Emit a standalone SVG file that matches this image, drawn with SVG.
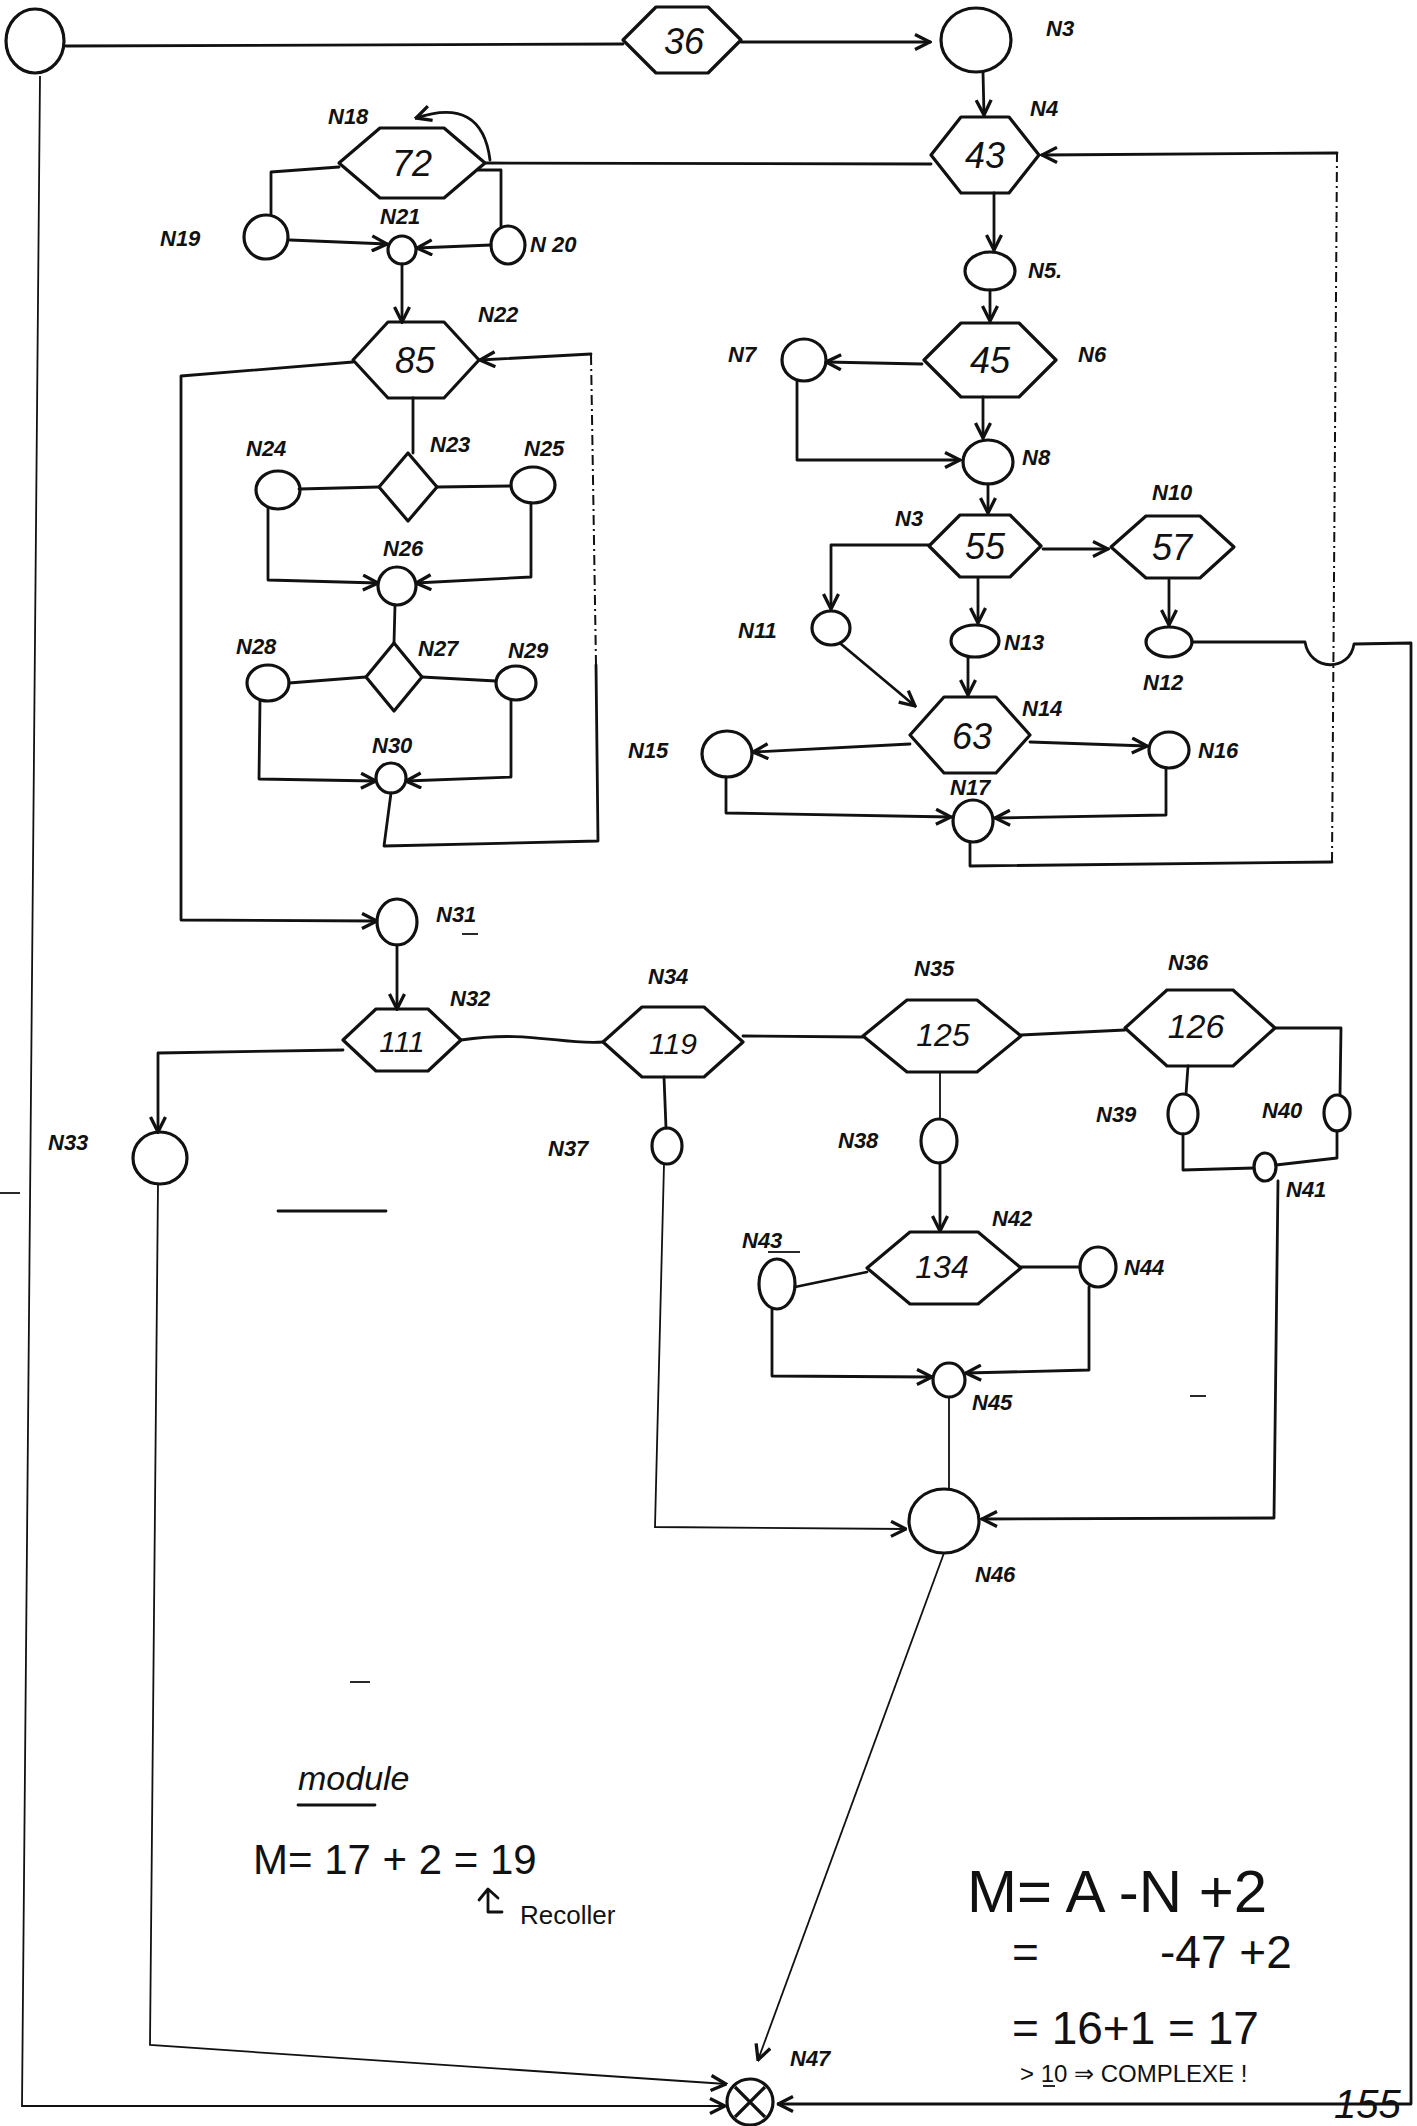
<svg xmlns="http://www.w3.org/2000/svg" width="1417" height="2126" viewBox="0 0 1417 2126">
<style>
.bg{fill:#fff}
.n{fill:none;stroke:#111;stroke-width:3.2;stroke-linejoin:round}
.c{fill:none;stroke:#111;stroke-width:2.8;stroke-linejoin:round;stroke-linecap:round}
.thin{fill:none;stroke:#111;stroke-width:1.8}
.dash{fill:none;stroke:#111;stroke-width:2;stroke-dasharray:10 4 2 4}
.t{font-family:"Liberation Sans",Arial,sans-serif;font-style:italic;font-weight:bold;font-size:22px;fill:#111}
.num{font-family:"Liberation Sans",Arial,sans-serif;font-style:italic;font-size:36px;fill:#111;text-anchor:middle}
.h{font-family:"Liberation Sans",Arial,sans-serif;fill:#111}
</style>
<defs>
<marker id="a" viewBox="0 0 12 12" refX="11" refY="6" markerWidth="18" markerHeight="18" markerUnits="userSpaceOnUse" orient="auto"><path d="M1,1 L11,6 L1,11" fill="none" stroke="#111" stroke-width="2.2"/></marker>
</defs>
<rect class="bg" x="0" y="0" width="1417" height="2126"/>

<g id="connectors">
<path class="c" d="M66,46 L623,44"/>
<path class="c" d="M741,42 L930,42" marker-end="url(#a)"/>
<path class="c" d="M983,72 L984,115" marker-end="url(#a)"/>
<path class="c" d="M931,164 L485,163"/>
<path class="c" d="M490,160 Q482,96 416,118" marker-end="url(#a)"/>
<path class="c" d="M994,193 L994,250" marker-end="url(#a)"/>
<path class="c" d="M990,290 L990,321" marker-end="url(#a)"/>
<path class="c" d="M922,364 L826,362" marker-end="url(#a)"/>
<path class="c" d="M797,381 L797,460 L960,460" marker-end="url(#a)"/>
<path class="c" d="M983,397 L983,438" marker-end="url(#a)"/>
<path class="c" d="M988,484 L988,513" marker-end="url(#a)"/>
<path class="c" d="M1043,549 L1108,549" marker-end="url(#a)"/>
<path class="c" d="M1169,580 L1169,625" marker-end="url(#a)"/>
<path class="c" d="M929,545 L831,545 L831,609" marker-end="url(#a)"/>
<path class="c" d="M978,578 L978,623" marker-end="url(#a)"/>
<path class="c" d="M841,644 L915,706" marker-end="url(#a)"/>
<path class="c" d="M968,657 L968,695" marker-end="url(#a)"/>
<path class="c" d="M910,744 L753,752" marker-end="url(#a)"/>
<path class="c" d="M1030,742 L1147,746" marker-end="url(#a)"/>
<path class="c" d="M726,777 L726,813 L951,817" marker-end="url(#a)"/>
<path class="c" d="M1166,768 L1166,815 L995,818" marker-end="url(#a)"/>
<path class="c" d="M970,842 L970,866 L1332,862"/>
<path class="dash" d="M1332,862 L1337,153"/>
<path class="c" d="M1337,153 L1042,155" marker-end="url(#a)"/>
<path class="c" d="M1192,642 L1305,642 C1310,672 1350,672 1354,644 L1411,643 L1411,2104 L778,2104" marker-end="url(#a)"/>
<path class="thin" d="M40,76 L22,2106 L725,2106" marker-end="url(#a)"/>
<path class="c" d="M339,167 L271,172 L271,215"/>
<path class="c" d="M478,170 L501,170 L501,227"/>
<path class="c" d="M290,240 L387,244" marker-end="url(#a)"/>
<path class="c" d="M491,245 L417,248" marker-end="url(#a)"/>
<path class="c" d="M402,264 L402,322" marker-end="url(#a)"/>
<path class="c" d="M413,398 L413,453"/>
<path class="c" d="M379,487 L299,489"/>
<path class="c" d="M437,487 L511,486"/>
<path class="c" d="M268,508 L268,580 L378,583" marker-end="url(#a)"/>
<path class="c" d="M531,503 L531,577 L416,583" marker-end="url(#a)"/>
<path class="c" d="M395,605 L394,643"/>
<path class="c" d="M366,677 L289,683"/>
<path class="c" d="M422,677 L496,681"/>
<path class="c" d="M260,701 L259,779 L376,781" marker-end="url(#a)"/>
<path class="c" d="M511,700 L511,777 L406,781" marker-end="url(#a)"/>
<path class="c" d="M391,793 L384,846 L598,841 L596,665"/>
<path class="dash" d="M596,665 L591,354"/>
<path class="c" d="M591,354 L480,360" marker-end="url(#a)"/>
<path class="c" d="M353,362 L181,376 L181,920 L377,921" marker-end="url(#a)"/>
<path class="c" d="M397,945 L397,1009" marker-end="url(#a)"/>
<path class="c" d="M343,1050 L158,1053 L158,1132" marker-end="url(#a)"/>
<path class="c" d="M461,1040 C530,1030 560,1045 603,1042"/>
<path class="c" d="M743,1036 L863,1037"/>
<path class="c" d="M1021,1035 L1125,1030"/>
<path class="thin" d="M158,1184 L150,2045 L726,2084" marker-end="url(#a)"/>
<path class="c" d="M664,1077 L666,1128"/>
<path class="thin" d="M664,1164 L655,1527 L906,1529" marker-end="url(#a)"/>
<path class="thin" d="M940,1072 L940,1119"/>
<path class="c" d="M940,1163 L940,1231" marker-end="url(#a)"/>
<path class="c" d="M1188,1066 L1186,1094"/>
<path class="c" d="M1275,1028 L1341,1028 L1340,1095"/>
<path class="c" d="M1183,1134 L1183,1170 L1254,1168"/>
<path class="c" d="M1337,1131 L1337,1158 L1276,1165"/>
<path class="c" d="M1278,1181 L1274,1518 L982,1519" marker-end="url(#a)"/>
<path class="c" d="M795,1287 L867,1272"/>
<path class="c" d="M1021,1267 L1080,1267"/>
<path class="c" d="M772,1309 L772,1376 L932,1377" marker-end="url(#a)"/>
<path class="c" d="M1089,1287 L1089,1370 L966,1373" marker-end="url(#a)"/>
<path class="thin" d="M949,1397 L949,1489"/>
<path class="thin" d="M944,1553 L758,2060" marker-end="url(#a)"/>
</g>

<g id="start"><ellipse class="n" cx="35" cy="41" rx="29" ry="32"/></g>
<g id="n2"><polygon class="n" points="623,40 656,7 708,7 741,40 708,73 656,73"/><text class="num" x="684" y="54">36</text></g>
<g id="N3"><ellipse class="n" cx="976" cy="40" rx="35" ry="32"/><text class="t" x="1046" y="36">N3</text></g>
<g id="N4"><polygon class="n" points="931,155 961,117 1009,117 1039,155 1009,193 961,193"/><text class="num" x="985" y="168">43</text><text class="t" x="1030" y="116">N4</text></g>
<g id="N5"><ellipse class="n" cx="990" cy="271" rx="25" ry="19"/><text class="t" x="1028" y="278">N5.</text></g>
<g id="N6"><polygon class="n" points="924,360 961,323 1019,323 1056,360 1019,397 961,397"/><text class="num" x="990" y="373">45</text><text class="t" x="1078" y="362">N6</text></g>
<g id="N7"><ellipse class="n" cx="804" cy="360" rx="22" ry="21"/><text class="t" x="728" y="362">N7</text></g>
<g id="N8"><ellipse class="n" cx="988" cy="462" rx="25" ry="22"/><text class="t" x="1022" y="465">N8</text></g>
<g id="N9"><polygon class="n" points="929,546 960,515 1010,515 1041,546 1010,577 960,577"/><text class="num" x="985" y="559">55</text><text class="t" x="895" y="526">N3</text></g>
<g id="N10"><polygon class="n" points="1111,547 1146,516 1200,516 1234,547 1200,578 1146,578"/><text class="num" x="1172" y="560">57</text><text class="t" x="1152" y="500">N10</text></g>
<g id="N11"><ellipse class="n" cx="831" cy="628" rx="19" ry="17"/><text class="t" x="738" y="638">N11</text></g>
<g id="N12"><ellipse class="n" cx="1169" cy="642" rx="23" ry="15"/><text class="t" x="1143" y="690">N12</text></g>
<g id="N13"><ellipse class="n" cx="975" cy="641" rx="24" ry="16"/><text class="t" x="1004" y="650">N13</text></g>
<g id="N14"><polygon class="n" points="910,735 944,697 996,697 1030,735 996,773 944,773"/><text class="num" x="972" y="749">63</text><text class="t" x="1022" y="716">N14</text></g>
<g id="N15"><ellipse class="n" cx="727" cy="754" rx="25" ry="23"/><text class="t" x="628" y="758">N15</text></g>
<g id="N16"><ellipse class="n" cx="1169" cy="750" rx="20" ry="18"/><text class="t" x="1198" y="758">N16</text></g>
<g id="N17"><ellipse class="n" cx="973" cy="821" rx="20" ry="21"/><text class="t" x="950" y="795">N17</text></g>
<g id="N18"><polygon class="n" points="339,163 380,128 444,128 485,163 444,198 380,198"/><text class="num" x="412" y="176">72</text><text class="t" x="328" y="124">N18</text></g>
<g id="N19"><ellipse class="n" cx="266" cy="237" rx="22" ry="22"/><text class="t" x="160" y="246">N19</text></g>
<g id="N20"><ellipse class="n" cx="508" cy="245" rx="17" ry="19"/><text class="t" x="530" y="252">N 20</text></g>
<g id="N21"><ellipse class="n" cx="402" cy="250" rx="14" ry="14"/><text class="t" x="380" y="224">N21</text></g>
<g id="N22"><polygon class="n" points="353,360 388,322 444,322 479,360 444,398 388,398"/><text class="num" x="415" y="373">85</text><text class="t" x="478" y="322">N22</text></g>
<g id="N23"><polygon class="n" points="408,453 437,487 408,521 379,487"/><text class="t" x="430" y="452">N23</text></g>
<g id="N24"><ellipse class="n" cx="278" cy="490" rx="22" ry="19"/><text class="t" x="246" y="456">N24</text></g>
<g id="N25"><ellipse class="n" cx="533" cy="485" rx="22" ry="18"/><text class="t" x="524" y="456">N25</text></g>
<g id="N26"><ellipse class="n" cx="397" cy="586" rx="19" ry="19"/><text class="t" x="383" y="556">N26</text></g>
<g id="N27"><polygon class="n" points="394,643 422,677 394,711 366,677"/><text class="t" x="418" y="656">N27</text></g>
<g id="N28"><ellipse class="n" cx="268" cy="683" rx="21" ry="18"/><text class="t" x="236" y="654">N28</text></g>
<g id="N29"><ellipse class="n" cx="516" cy="683" rx="20" ry="17"/><text class="t" x="508" y="658">N29</text></g>
<g id="N30"><ellipse class="n" cx="391" cy="778" rx="15" ry="15"/><text class="t" x="372" y="753">N30</text></g>
<g id="N31"><ellipse class="n" cx="397" cy="922" rx="20" ry="23"/><text class="t" x="436" y="922">N31</text><path class="thin" d="M462,934 L478,934"/></g>
<g id="N32"><polygon class="n" points="343,1040 376,1009 428,1009 461,1040 428,1071 376,1071"/><text class="num" x="402" y="1052" style="font-size:30px">111</text><text class="t" x="450" y="1006">N32</text></g>
<g id="N33"><ellipse class="n" cx="160" cy="1158" rx="27" ry="26"/><text class="t" x="48" y="1150">N33</text></g>
<g id="N34"><polygon class="n" points="603,1042 642,1007 704,1007 743,1042 704,1077 642,1077"/><text class="num" x="673" y="1054" style="font-size:30px">119</text><text class="t" x="648" y="984">N34</text></g>
<g id="N35"><polygon class="n" points="863,1036 907,1000 977,1000 1021,1036 977,1072 907,1072"/><text class="num" x="943" y="1046" style="font-size:32px">125</text><text class="t" x="914" y="976">N35</text></g>
<g id="N36"><polygon class="n" points="1125,1028 1167,990 1233,990 1275,1028 1233,1066 1167,1066"/><text class="num" x="1196" y="1038" style="font-size:34px">126</text><text class="t" x="1168" y="970">N36</text></g>
<g id="N37"><ellipse class="n" cx="667" cy="1146" rx="15" ry="18"/><text class="t" x="548" y="1156">N37</text></g>
<g id="N38"><ellipse class="n" cx="939" cy="1141" rx="18" ry="22"/><text class="t" x="838" y="1148">N38</text></g>
<g id="N39"><ellipse class="n" cx="1183" cy="1114" rx="15" ry="20"/><text class="t" x="1096" y="1122">N39</text></g>
<g id="N40"><ellipse class="n" cx="1337" cy="1113" rx="13" ry="18"/><text class="t" x="1262" y="1118">N40</text></g>
<g id="N41"><ellipse class="n" cx="1265" cy="1167" rx="11" ry="14"/><text class="t" x="1286" y="1197">N41</text></g>
<g id="N42"><polygon class="n" points="867,1268 910,1232 978,1232 1021,1268 978,1304 910,1304"/><text class="num" x="942" y="1278" style="font-size:32px">134</text><text class="t" x="992" y="1226">N42</text></g>
<g id="N43"><ellipse class="n" cx="777" cy="1284" rx="18" ry="25"/><text class="t" x="742" y="1248">N43</text><path class="thin" d="M768,1252 L800,1252"/></g>
<g id="N44"><ellipse class="n" cx="1098" cy="1267" rx="18" ry="20"/><text class="t" x="1124" y="1275">N44</text></g>
<g id="N45"><ellipse class="n" cx="949" cy="1380" rx="16" ry="17"/><text class="t" x="972" y="1410">N45</text></g>
<g id="N46"><ellipse class="n" cx="944" cy="1521" rx="35" ry="32"/><text class="t" x="975" y="1582">N46</text></g>
<g id="N47"><circle class="n" cx="750" cy="2102" r="23"/><path class="n" d="M735,2087 L765,2117 M765,2087 L735,2117"/><text class="t" x="790" y="2066">N47</text></g>

<g id="marks">
<path class="c" d="M278,1211 L386,1211"/>
<path class="thin" d="M1190,1396 L1206,1396"/>
<path class="thin" d="M350,1682 L370,1682"/>
<path class="thin" d="M0,1193 L20,1193"/>
</g>

<g id="notes">
<text class="h" x="298" y="1790" style="font-size:34px;font-style:italic">module</text>
<path class="c" d="M298,1805 L375,1805"/>
<text class="h" x="253" y="1874" style="font-size:42px">M=  17 + 2 = 19</text>
<path class="c" d="M502,1912 L488,1912 L488,1890 M479,1900 L488,1889 L498,1898"/>
<text class="h" x="520" y="1924" style="font-size:26px">Recoller</text>
<text class="h" x="967" y="1912" style="font-size:60px">M= A -N +2</text>
<text class="h" x="1012" y="1968" style="font-size:46px">=</text>
<text class="h" x="1160" y="1968" style="font-size:46px">-47 +2</text>
<text class="h" x="1012" y="2044" style="font-size:46px">= 16+1 = 17</text>
<text class="h" x="1020" y="2082" style="font-size:24px">&gt; 10 ⇒ COMPLEXE !</text>
<path class="thin" d="M1043,2086 L1055,2086"/>
<text class="h" x="1334" y="2118" style="font-size:40px;font-style:italic">155</text>
</g>
</svg>
